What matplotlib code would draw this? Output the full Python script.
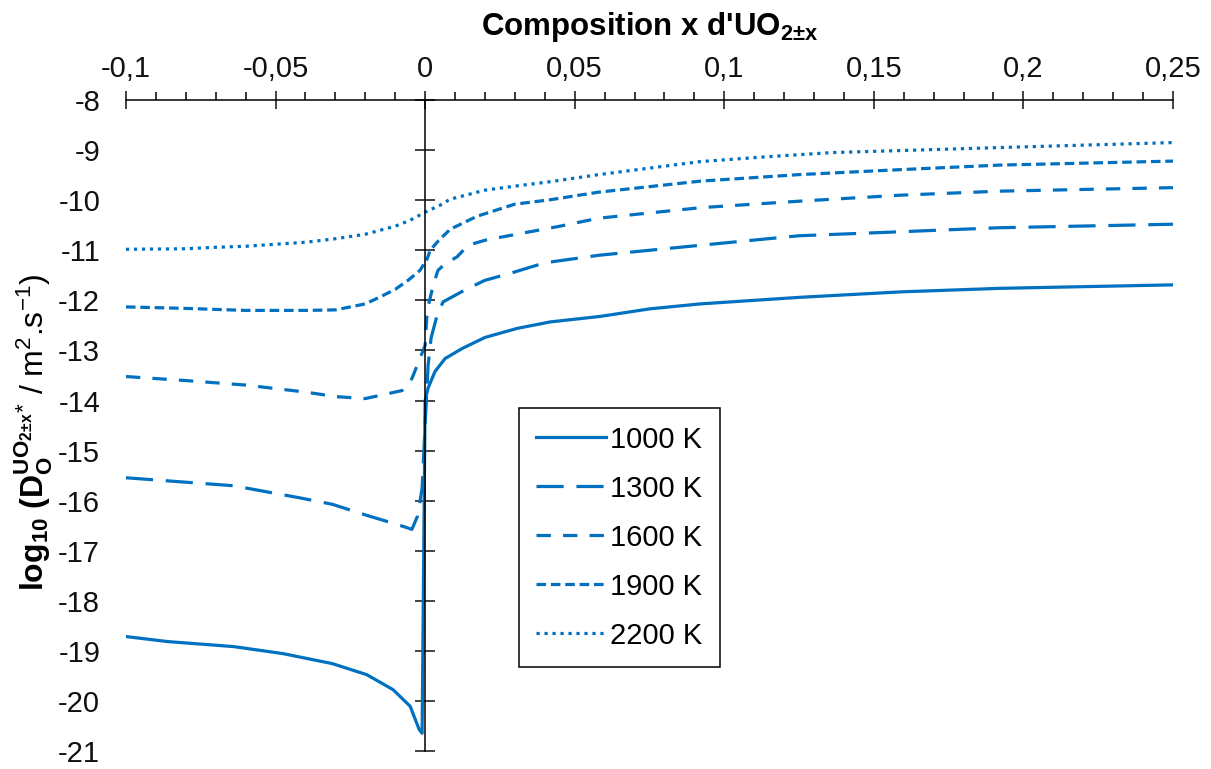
import matplotlib
matplotlib.use('Agg')
import matplotlib.pyplot as plt
from matplotlib.ticker import MultipleLocator, FuncFormatter

plt.rcParams['font.family'] = ['Liberation Sans', 'DejaVu Sans']
plt.rcParams['mathtext.fontset'] = 'custom'
plt.rcParams['mathtext.rm'] = 'Liberation Sans'
plt.rcParams['mathtext.it'] = 'Liberation Sans'
plt.rcParams['mathtext.bf'] = 'Liberation Sans:bold'
plt.rcParams['axes.unicode_minus'] = False

# composition x and log10(D), one list pair per temperature
x_1000 = [-0.1, -0.086, -0.064, -0.0475, -0.031, -0.0195, -0.0107, -0.005, -0.002, -0.001,
          0.0, 0.001, 0.0033, 0.0067, 0.0124, 0.02, 0.0307, 0.0418, 0.0585, 0.075, 0.092,
          0.125, 0.159, 0.192, 0.25]
y_1000 = [-18.71, -18.81, -18.91, -19.05, -19.25, -19.47, -19.77, -20.1, -20.56, -20.64,
          -14.0, -13.75, -13.42, -13.16, -12.96, -12.74, -12.56, -12.43, -12.32, -12.17, -12.07,
          -11.94, -11.83, -11.76, -11.69]

x_1300 = [-0.1, -0.064, -0.042, -0.031, -0.0195, -0.0084, -0.0044, -0.0025, -0.001, 0.0,
          0.001, 0.002, 0.004, 0.006, 0.014, 0.02, 0.029, 0.04, 0.058, 0.092, 0.125, 0.159,
          0.192, 0.25]
y_1300 = [-15.54, -15.7, -15.94, -16.07, -16.29, -16.49, -16.57, -16.3, -15.75, -14.5,
          -13.3, -12.75, -12.3, -12.03, -11.77, -11.6, -11.45, -11.25, -11.1, -10.9, -10.71,
          -10.63, -10.55, -10.48]

x_1600 = [-0.1, -0.08, -0.06, -0.04, -0.03, -0.02, -0.0077, -0.0044, -0.002, 0.0, 0.0007,
          0.0027, 0.0043, 0.0067, 0.0107, 0.0144, 0.02, 0.027, 0.045, 0.058, 0.092, 0.125,
          0.159, 0.192, 0.25]
y_1600 = [-13.52, -13.6, -13.69, -13.83, -13.92, -13.96, -13.8, -13.56, -13.2, -12.9, -12.2,
          -11.7, -11.4, -11.27, -11.13, -10.9, -10.8, -10.72, -10.52, -10.36, -10.15, -10.02,
          -9.9, -9.82, -9.75]

x_1900 = [-0.1, -0.08, -0.06, -0.04, -0.03, -0.02, -0.015, -0.01, -0.0057, -0.0017, 0.0007,
          0.0017, 0.0043, 0.0084, 0.0174, 0.03, 0.042, 0.058, 0.092, 0.125, 0.159, 0.192, 0.25]
y_1900 = [-12.13, -12.16, -12.2, -12.2, -12.19, -12.07, -11.93, -11.78, -11.6, -11.4, -11.17,
          -11.0, -10.82, -10.58, -10.32, -10.08, -9.99, -9.84, -9.62, -9.49, -9.39, -9.3, -9.22]

x_2200 = [-0.1, -0.08, -0.07, -0.06, -0.04, -0.03, -0.02, -0.01, -0.005, 0.0, 0.005, 0.0084,
          0.02, 0.03, 0.042, 0.058, 0.075, 0.092, 0.115, 0.136, 0.17, 0.192, 0.25]
y_2200 = [-10.98, -10.97, -10.94, -10.92, -10.84, -10.77, -10.68, -10.52, -10.4, -10.24,
          -10.1, -9.98, -9.8, -9.72, -9.63, -9.49, -9.36, -9.23, -9.13, -9.05, -8.99, -8.95, -8.85]

labels = ['1000 K', '1300 K', '1600 K', '1900 K', '2200 K']

blue = '#0070C0'
fs = 21

fig = plt.figure(figsize=(12.11, 7.69), dpi=100)
ax = fig.add_axes([0.104, 0.023, 0.8646, 0.847])

ax.plot(x_1000, y_1000, color=blue, lw=2.3, label=labels[0])
ax.plot(x_1300, y_1300, color=blue, lw=2.3, dashes=(8.5, 4), label=labels[1])
ax.plot(x_1600, y_1600, color=blue, lw=2.3, dashes=(4.5, 3.8), label=labels[2])
ax.plot(x_1900, y_1900, color=blue, lw=2.3, dashes=(3, 1.5), label=labels[3])
ax.plot(x_2200, y_2200, color=blue, lw=2.3, dashes=(1, 1.5), label=labels[4])

ax.set_xlim(-0.1, 0.25)
ax.set_ylim(-21, -8)

# axes: x on top, y line crossing at x = 0 with labels kept on the left
ax.spines['left'].set_visible(False)
ax.spines['bottom'].set_visible(False)
ax.spines['right'].set_position(('data', 0))
ax.spines['top'].set_linewidth(1.1)
ax.spines['right'].set_linewidth(1.1)

ax.xaxis.set_ticks_position('top')
ax.xaxis.set_label_position('top')
ax.xaxis.set_major_locator(MultipleLocator(0.05))
ax.xaxis.set_minor_locator(MultipleLocator(0.01))
ax.xaxis.set_major_formatter(FuncFormatter(lambda v, p: ('%g' % round(v, 3)).replace('.', ',')))
ax.tick_params(axis='x', which='major', direction='inout', length=13, width=1.1, pad=6,
               labelsize=fs, colors='#111111')
ax.tick_params(axis='x', which='minor', direction='out', length=6, width=1.1)

ax.yaxis.set_ticks_position('both')
ax.yaxis.set_major_locator(MultipleLocator(1))
ax.tick_params(axis='y', which='major', left=False, right=True, labelleft=True,
               labelright=False, direction='inout', length=14, width=1.1, pad=11.5,
               labelsize=fs, colors='#111111')

ax.set_xlabel(r"Composition x d'UO$_{\mathbf{2{\pm}x}}$", fontsize=22.5, fontweight='bold',
              labelpad=14)
ax.set_ylabel(r"$\mathbf{log_{10}\ (D_{O}^{UO_{2{\pm}x}}}$$^{*}$ / m$^{2}$.s$^{-1}$)", fontsize=23)
ax.yaxis.set_label_coords(-0.068, 0.49)

leg = ax.legend(loc='upper left', bbox_to_anchor=(0.375, 0.527), borderaxespad=0,
                fontsize=fs, handlelength=2.4, handletextpad=0.15, labelspacing=0.72,
                borderpad=0.6, fancybox=False, framealpha=1)
leg.get_frame().set_edgecolor('black')
leg.get_frame().set_linewidth(1.1)

plt.savefig('out.png', dpi=100)
